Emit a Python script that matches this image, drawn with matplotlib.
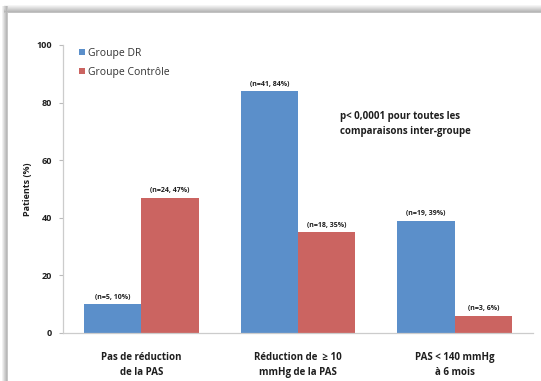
import numpy as np
import matplotlib
matplotlib.use("Agg")
import matplotlib.pyplot as plt

plt.rcParams['font.family'] = ['Open Sans', 'DejaVu Sans']

categories = ["Pas de réduction\nde la PAS",
              "Réduction de  ≥ 10\nmmHg de la PAS",
              "PAS < 140 mmHg\nà 6 mois"]
series_names = ["Groupe DR", "Groupe Contrôle"]
dr_values = [10, 84, 39]
ctrl_values = [47, 35, 6]
dr_n = [5, 41, 19]
ctrl_n = [24, 18, 3]
y_ticks = [0, 20, 40, 60, 80, 100]

blue = "#5B8FCA"
red = "#CB6461"
ink = "#1E1E1E"

W, H = 541, 381
fig = plt.figure(figsize=(W / 100, H / 100), dpi=100)
fig.patch.set_facecolor("white")

# soft shadow frame along the top and left edges
bg = fig.add_axes([0, 0, 1, 1], zorder=-10)
ys = np.arange(H)[:, None]
xs = np.arange(W)[None, :]
top = np.clip(1 - np.abs(ys - 11) / 7.0, 0, 1) * (ys <= 12)
left = np.clip(1 - np.abs(xs - 6) / 5.0, 0, 1) * (xs <= 7) * (ys >= 6)
shade = np.maximum(top * (xs >= 4), left)
img = 1 - 0.28 * shade
bg.imshow(img, cmap="gray", vmin=0, vmax=1, aspect="auto",
          extent=(0, W, H, 0), interpolation="bilinear")
bg.axis("off")

ax = fig.add_axes([63 / W, 1 - 333 / H, 470 / W, 288 / H])
x = np.arange(len(categories))
w = 0.367
ax.bar(x - w / 2, dr_values, w, color=blue, label=series_names[0], zorder=2)
ax.bar(x + w / 2, ctrl_values, w, color=red, label=series_names[1], zorder=2)

for xi, v, n in zip(x - w / 2, dr_values, dr_n):
    ax.text(xi, v + 1.2, f"(n={n}, {v}%)", ha="center", va="bottom",
            fontsize=5, fontweight="bold", color=ink)
for xi, v, n in zip(x + w / 2, ctrl_values, ctrl_n):
    ax.text(xi, v + 1.2, f"(n={n}, {v}%)", ha="center", va="bottom",
            fontsize=5, fontweight="bold", color=ink)

ax.set_xlim(-0.5, 2.5)
ax.set_ylim(0, 100)
ax.set_yticks(y_ticks)
ax.set_yticklabels([str(t) for t in y_ticks], fontsize=6.5, fontweight="bold",
                   color=ink)
ax.tick_params(axis="y", length=3, width=0.8, color="#BBBBBB", pad=5)
ax.set_xticks(x)
ax.set_xticklabels(categories, fontsize=7, fontweight="bold", color=ink,
                   linespacing=1.45)
ax.tick_params(axis="x", length=0, pad=14)
for s in ("top", "right"):
    ax.spines[s].set_visible(False)
ax.spines["left"].set_color("#CCCCCC")
ax.spines["bottom"].set_color("#CCCCCC")
ax.spines["left"].set_linewidth(0.9)
ax.spines["bottom"].set_linewidth(0.9)

ax.set_ylabel("Patients (%)", fontsize=6.5, fontweight="bold", color=ink,
              labelpad=3)

leg = ax.legend(loc="upper left", bbox_to_anchor=(0.025, 1.005), frameon=False,
                fontsize=7.5, handlelength=0.55, handleheight=0.55,
                handletextpad=0.35, labelspacing=0.75, borderaxespad=0)
for t in leg.get_texts():
    t.set_color("#333333")

ax.text(0.59, 0.77, "p< 0,0001 pour toutes les\ncomparaisons inter-groupe",
        transform=ax.transAxes, fontsize=7, fontweight="bold", color=ink,
        ha="left", va="top", linespacing=1.5)

fig.savefig("out.png", dpi=100, facecolor="white")
